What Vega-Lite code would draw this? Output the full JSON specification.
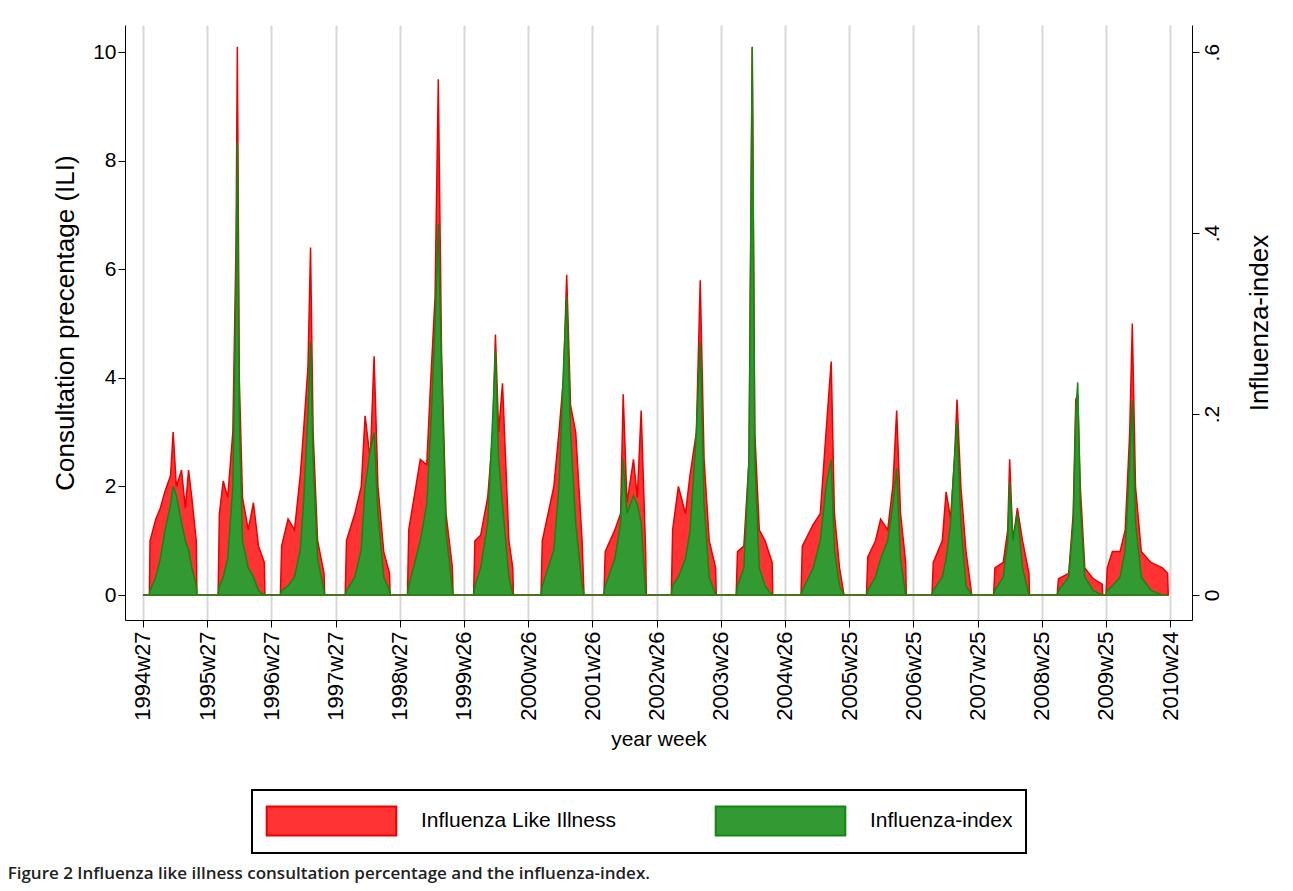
{
"$schema":"https://vega.github.io/schema/vega-lite/v6.json",
"width":1067,"height":595,
"autosize":{"type":"none"},
"padding":{"left":125,"top":25,"right":101,"bottom":271},
"background":"white",
"title":{"text":"Figure 2 Influenza like illness consultation percentage and the influenza-index.","orient":"bottom","anchor":"start","dx":-45,"offset":12,"fontSize":17,"fontWeight":600,"font":"Open Sans","color":"#222"},
"data":{"values":[
{"x":1994.5,"ili":0,"idx":0},
{"x":1994.6,"ili":0,"idx":0},{"x":1994.61,"ili":1.0,"idx":0.005},{"x":1994.7,"ili":1.4,"idx":0.02},{"x":1994.77,"ili":1.6,"idx":0.04},{"x":1994.84,"ili":1.9,"idx":0.07},{"x":1994.93,"ili":2.2,"idx":0.1},{"x":1994.97,"ili":3.0,"idx":0.12},{"x":1995.02,"ili":2.0,"idx":0.11},{"x":1995.1,"ili":2.3,"idx":0.08},{"x":1995.16,"ili":1.6,"idx":0.06},{"x":1995.21,"ili":2.3,"idx":0.05},{"x":1995.26,"ili":1.8,"idx":0.03},{"x":1995.33,"ili":1.0,"idx":0.01},{"x":1995.34,"ili":0,"idx":0},
{"x":1995.67,"ili":0,"idx":0},{"x":1995.69,"ili":1.5,"idx":0.01},{"x":1995.75,"ili":2.1,"idx":0.02},{"x":1995.82,"ili":1.8,"idx":0.04},{"x":1995.9,"ili":3.0,"idx":0.12},{"x":1995.95,"ili":6.5,"idx":0.35},{"x":1995.97,"ili":10.1,"idx":0.5},{"x":1996.0,"ili":4.0,"idx":0.2},{"x":1996.05,"ili":1.8,"idx":0.06},{"x":1996.14,"ili":1.2,"idx":0.03},{"x":1996.22,"ili":1.7,"idx":0.02},{"x":1996.3,"ili":0.9,"idx":0.005},{"x":1996.39,"ili":0.6,"idx":0},{"x":1996.4,"ili":0,"idx":0},
{"x":1996.64,"ili":0,"idx":0},{"x":1996.66,"ili":0.9,"idx":0.005},{"x":1996.76,"ili":1.4,"idx":0.01},{"x":1996.86,"ili":1.2,"idx":0.02},{"x":1996.95,"ili":2.2,"idx":0.05},{"x":1997.0,"ili":3.0,"idx":0.1},{"x":1997.07,"ili":4.2,"idx":0.2},{"x":1997.11,"ili":6.4,"idx":0.28},{"x":1997.15,"ili":3.0,"idx":0.15},{"x":1997.22,"ili":1.0,"idx":0.04},{"x":1997.32,"ili":0.4,"idx":0.005},{"x":1997.33,"ili":0,"idx":0},
{"x":1997.65,"ili":0,"idx":0},{"x":1997.67,"ili":1.0,"idx":0.005},{"x":1997.8,"ili":1.5,"idx":0.02},{"x":1997.9,"ili":2.0,"idx":0.05},{"x":1997.96,"ili":3.3,"idx":0.12},{"x":1998.04,"ili":2.5,"idx":0.16},{"x":1998.1,"ili":4.4,"idx":0.18},{"x":1998.16,"ili":2.0,"idx":0.09},{"x":1998.25,"ili":0.8,"idx":0.02},{"x":1998.34,"ili":0.4,"idx":0.005},{"x":1998.35,"ili":0,"idx":0},
{"x":1998.62,"ili":0,"idx":0},{"x":1998.64,"ili":1.2,"idx":0.01},{"x":1998.82,"ili":2.5,"idx":0.06},{"x":1998.92,"ili":2.4,"idx":0.1},{"x":1998.98,"ili":3.9,"idx":0.18},{"x":1999.05,"ili":5.5,"idx":0.3},{"x":1999.1,"ili":9.5,"idx":0.41},{"x":1999.15,"ili":4.5,"idx":0.25},{"x":1999.22,"ili":1.5,"idx":0.07},{"x":1999.32,"ili":0.5,"idx":0.005},{"x":1999.33,"ili":0,"idx":0},
{"x":1999.65,"ili":0,"idx":0},{"x":1999.67,"ili":1.0,"idx":0.01},{"x":1999.76,"ili":1.1,"idx":0.03},{"x":1999.87,"ili":1.8,"idx":0.08},{"x":1999.95,"ili":3.0,"idx":0.2},{"x":1999.99,"ili":4.8,"idx":0.27},{"x":2000.04,"ili":3.0,"idx":0.15},{"x":2000.1,"ili":3.9,"idx":0.1},{"x":2000.2,"ili":1.0,"idx":0.02},{"x":2000.26,"ili":0.5,"idx":0},{"x":2000.27,"ili":0,"idx":0},
{"x":2000.7,"ili":0,"idx":0},{"x":2000.72,"ili":1.0,"idx":0.01},{"x":2000.9,"ili":2.0,"idx":0.05},{"x":2000.98,"ili":3.0,"idx":0.12},{"x":2001.05,"ili":4.0,"idx":0.25},{"x":2001.1,"ili":5.9,"idx":0.33},{"x":2001.16,"ili":3.5,"idx":0.18},{"x":2001.24,"ili":3.0,"idx":0.08},{"x":2001.34,"ili":1.0,"idx":0.01},{"x":2001.37,"ili":0,"idx":0},
{"x":2001.68,"ili":0,"idx":0},{"x":2001.7,"ili":0.8,"idx":0.01},{"x":2001.85,"ili":1.2,"idx":0.04},{"x":2001.94,"ili":1.5,"idx":0.08},{"x":2001.98,"ili":3.7,"idx":0.15},{"x":2002.04,"ili":1.7,"idx":0.09},{"x":2002.14,"ili":2.5,"idx":0.11},{"x":2002.2,"ili":1.8,"idx":0.1},{"x":2002.26,"ili":3.4,"idx":0.08},{"x":2002.33,"ili":0.8,"idx":0},{"x":2002.34,"ili":0,"idx":0},
{"x":2002.73,"ili":0,"idx":0},{"x":2002.75,"ili":1.2,"idx":0.01},{"x":2002.84,"ili":2.0,"idx":0.02},{"x":2002.95,"ili":1.5,"idx":0.04},{"x":2003.02,"ili":2.2,"idx":0.07},{"x":2003.12,"ili":3.0,"idx":0.18},{"x":2003.18,"ili":5.8,"idx":0.28},{"x":2003.24,"ili":2.5,"idx":0.1},{"x":2003.32,"ili":1.0,"idx":0.02},{"x":2003.42,"ili":0.5,"idx":0},{"x":2003.43,"ili":0,"idx":0},
{"x":2003.74,"ili":0,"idx":0},{"x":2003.76,"ili":0.8,"idx":0.01},{"x":2003.86,"ili":0.9,"idx":0.03},{"x":2003.94,"ili":2.5,"idx":0.15},{"x":2003.99,"ili":10.1,"idx":0.605},{"x":2004.03,"ili":3.0,"idx":0.15},{"x":2004.1,"ili":1.2,"idx":0.03},{"x":2004.19,"ili":1.0,"idx":0.01},{"x":2004.3,"ili":0.6,"idx":0},{"x":2004.31,"ili":0,"idx":0},
{"x":2004.75,"ili":0,"idx":0},{"x":2004.77,"ili":0.9,"idx":0.005},{"x":2004.94,"ili":1.3,"idx":0.03},{"x":2005.05,"ili":1.5,"idx":0.06},{"x":2005.14,"ili":3.0,"idx":0.12},{"x":2005.22,"ili":4.3,"idx":0.15},{"x":2005.27,"ili":1.5,"idx":0.05},{"x":2005.35,"ili":0.5,"idx":0.01},{"x":2005.42,"ili":0,"idx":0},
{"x":2005.77,"ili":0,"idx":0},{"x":2005.79,"ili":0.7,"idx":0.005},{"x":2005.91,"ili":1.0,"idx":0.02},{"x":2005.99,"ili":1.4,"idx":0.04},{"x":2006.1,"ili":1.2,"idx":0.06},{"x":2006.18,"ili":2.0,"idx":0.1},{"x":2006.24,"ili":3.4,"idx":0.14},{"x":2006.3,"ili":1.5,"idx":0.04},{"x":2006.38,"ili":0.6,"idx":0},{"x":2006.39,"ili":0,"idx":0},
{"x":2006.79,"ili":0,"idx":0},{"x":2006.81,"ili":0.6,"idx":0.005},{"x":2006.95,"ili":1.0,"idx":0.02},{"x":2007.01,"ili":1.9,"idx":0.04},{"x":2007.08,"ili":1.4,"idx":0.08},{"x":2007.14,"ili":2.5,"idx":0.15},{"x":2007.18,"ili":3.6,"idx":0.19},{"x":2007.24,"ili":2.0,"idx":0.08},{"x":2007.32,"ili":0.8,"idx":0.01},{"x":2007.41,"ili":0,"idx":0},
{"x":2007.75,"ili":0,"idx":0},{"x":2007.77,"ili":0.5,"idx":0.005},{"x":2007.9,"ili":0.6,"idx":0.02},{"x":2007.97,"ili":1.2,"idx":0.06},{"x":2008.0,"ili":2.5,"idx":0.125},{"x":2008.05,"ili":1.0,"idx":0.06},{"x":2008.12,"ili":1.6,"idx":0.09},{"x":2008.2,"ili":1.0,"idx":0.03},{"x":2008.3,"ili":0.4,"idx":0},{"x":2008.31,"ili":0,"idx":0},
{"x":2008.74,"ili":0,"idx":0},{"x":2008.76,"ili":0.3,"idx":0.005},{"x":2008.92,"ili":0.4,"idx":0.02},{"x":2008.99,"ili":1.5,"idx":0.08},{"x":2009.03,"ili":3.6,"idx":0.2},{"x":2009.06,"ili":3.7,"idx":0.235},{"x":2009.1,"ili":2.0,"idx":0.1},{"x":2009.17,"ili":0.5,"idx":0.02},{"x":2009.3,"ili":0.3,"idx":0.005},{"x":2009.44,"ili":0.2,"idx":0},{"x":2009.45,"ili":0,"idx":0},
{"x":2009.5,"ili":0,"idx":0},{"x":2009.52,"ili":0.5,"idx":0.005},{"x":2009.6,"ili":0.8,"idx":0.01},{"x":2009.72,"ili":0.8,"idx":0.02},{"x":2009.8,"ili":1.2,"idx":0.05},{"x":2009.87,"ili":3.0,"idx":0.15},{"x":2009.91,"ili":5.0,"idx":0.215},{"x":2009.96,"ili":2.0,"idx":0.08},{"x":2010.05,"ili":0.8,"idx":0.02},{"x":2010.2,"ili":0.6,"idx":0.005},{"x":2010.38,"ili":0.5,"idx":0},{"x":2010.46,"ili":0.4,"idx":0},{"x":2010.47,"ili":0,"idx":0}
]},
"encoding":{"x":{"field":"x","type":"quantitative","scale":{"domain":[1994.22,2010.84],"nice":false,"zero":false},
"axis":{"values":[1994.5,1995.5,1996.5,1997.5,1998.5,1999.5,2000.5,2001.5,2002.5,2003.5,2004.5,2005.5,2006.5,2007.5,2008.5,2009.5,2010.5],
"labelExpr":"floor(datum.value)+'w'+['27','27','27','27','27','26','26','26','26','26','26','25','25','25','25','25','24'][floor(datum.value)-1994]",
"labelAngle":-90,"labelFontSize":22,"labelColor":"#000","title":"year week","titleFontSize":21,"titleFontWeight":"normal","titlePadding":8,
"grid":true,"gridColor":"#d8d8d8","gridWidth":2,"domainColor":"#000","tickColor":"#000","tickSize":7,"labelPadding":4}}},
"layer":[
{"mark":{"type":"area","strokeWidth":1.5},
"encoding":{"y":{"field":"ili","type":"quantitative","scale":{"domain":[-0.46,10.5],"nice":false,"zero":false},
"axis":{"values":[0,2,4,6,8,10],"labelFontSize":21,"labelColor":"#000","title":"Consultation precentage (ILI)","titleFontSize":26,"titleFontWeight":"normal","titlePadding":14,"grid":false,"domainColor":"#000","tickColor":"#000","tickSize":7}},
"color":{"datum":"Influenza Like Illness","scale":{"range":["#ff3333","#339933"]}},
"stroke":{"datum":"Influenza Like Illness","scale":{"range":["#ee0000","#118811"]}}}},
{"mark":{"type":"area","strokeWidth":1.5},
"encoding":{"y":{"field":"idx","type":"quantitative","scale":{"domain":[-0.0276,0.63],"nice":false,"zero":false},
"axis":{"orient":"right","values":[0,0.2,0.4,0.6],"labelExpr":"datum.value==0?'0':replace(format(datum.value,'.1f'),'0.','.')","labelAngle":270,"labelFontSize":21,"labelColor":"#000","title":"Influenza-index","titleAngle":270,"titleFontSize":26,"titleFontWeight":"normal","titlePadding":50,"grid":false,"domainColor":"#000","tickColor":"#000","tickSize":7}},
"color":{"datum":"Influenza-index"},
"stroke":{"datum":"Influenza-index"}}}
],
"resolve":{"scale":{"y":"independent"}},
"config":{"font":"Liberation Sans","view":{"stroke":null},
"legend":{"orient":"none","legendX":127,"legendY":765,"direction":"horizontal","title":null,"symbolType":"M-4,-0.9H4V0.9H-4Z","symbolSize":1050,"symbolOffset":49,"symbolStrokeWidth":2,"labelFontSize":21,"labelColor":"#000","labelLimit":0,"columnPadding":95,"labelOffset":72,"strokeColor":"#000","strokeWidth":2,"padding":13,"symbolOpacity":1}}
}
